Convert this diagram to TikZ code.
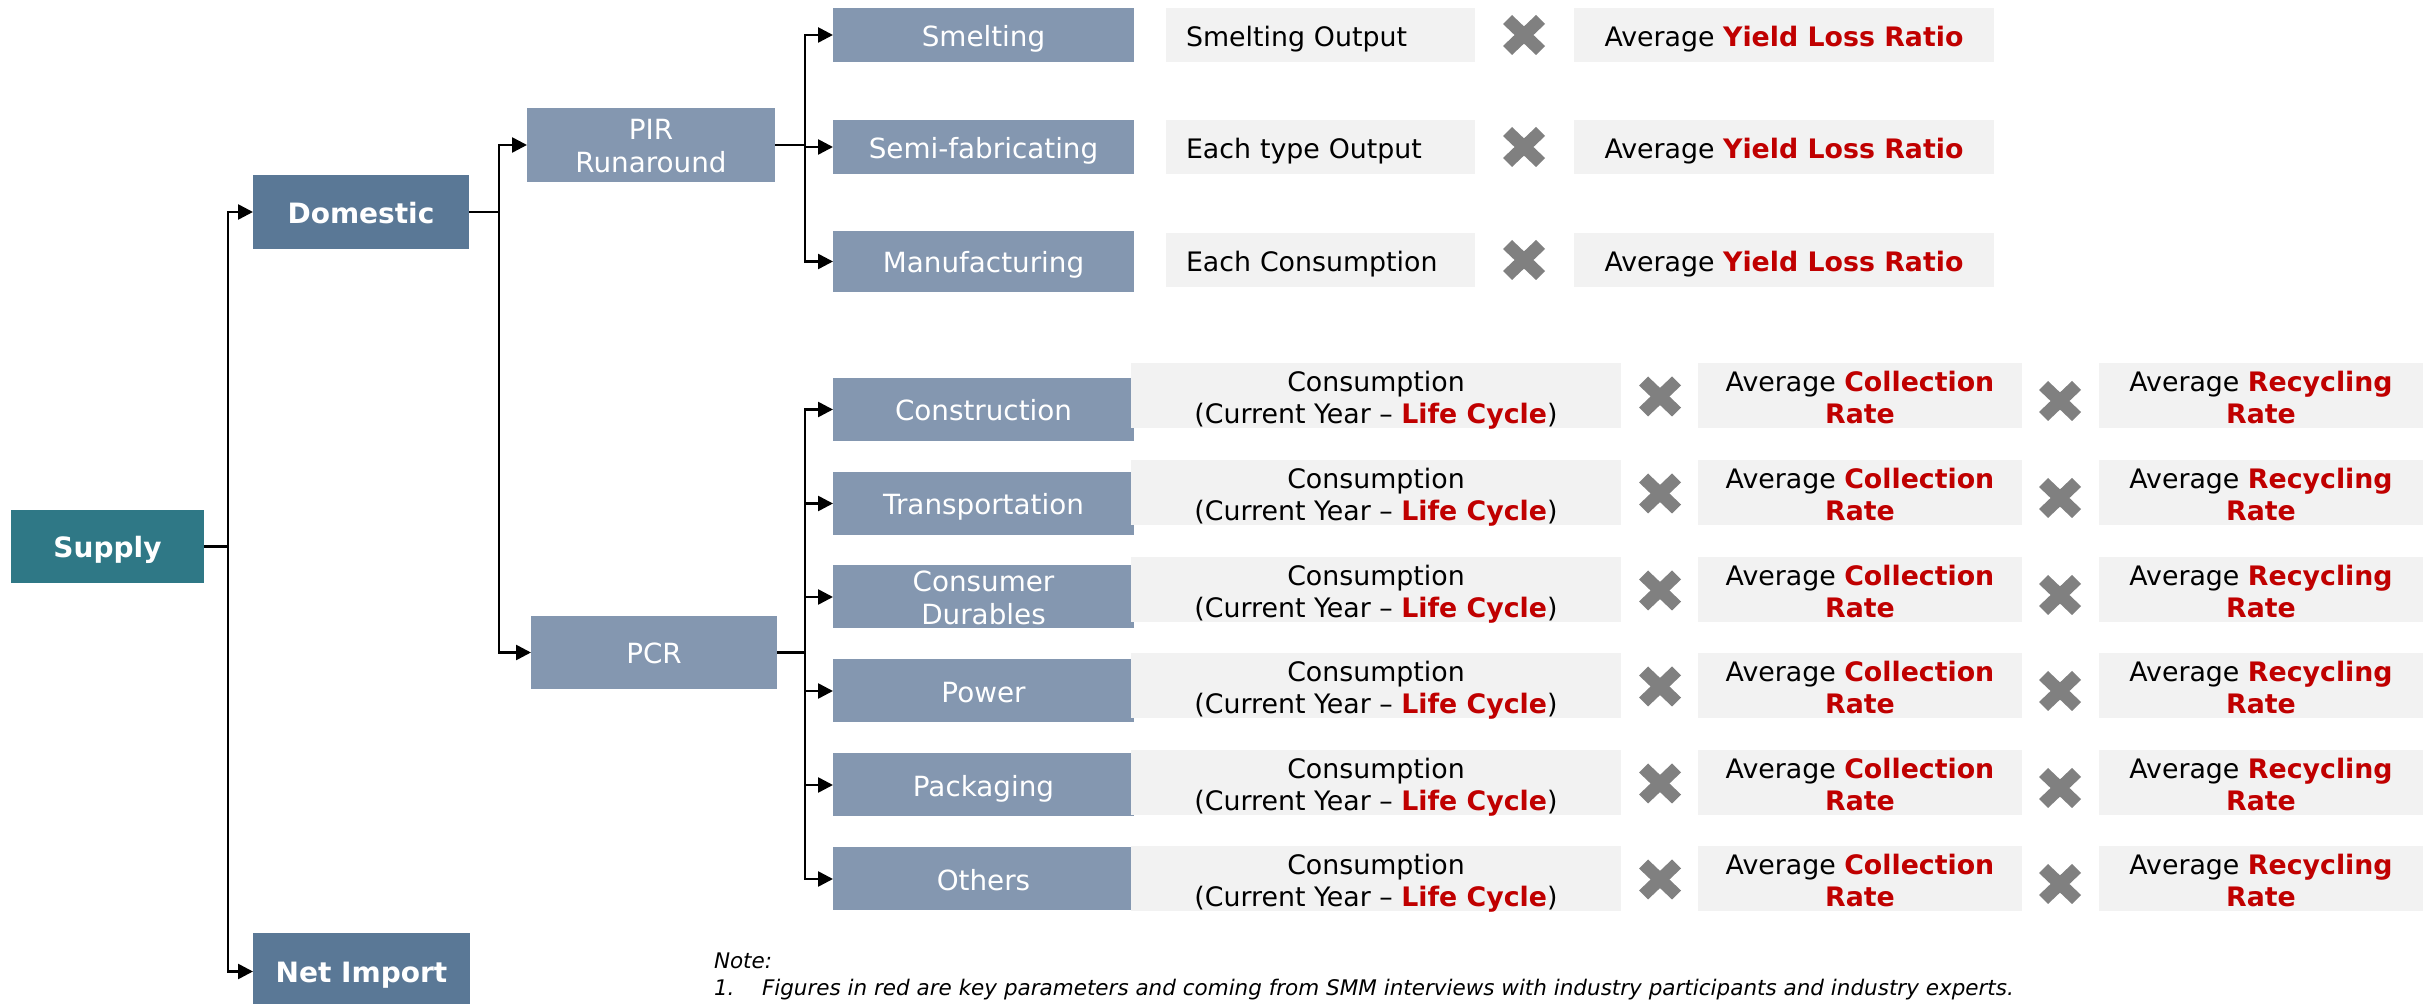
\documentclass[tikz,border=0pt]{standalone}
\usepackage{fontspec}
\setmainfont{DejaVu Sans}
\usetikzlibrary{arrows.meta}
\definecolor{supplyc}{RGB}{47,120,134}
\definecolor{domc}{RGB}{90,120,150}
\definecolor{lblue}{RGB}{132,151,176}
\definecolor{grayb}{RGB}{242,242,242}
\definecolor{redt}{RGB}{192,0,0}
\definecolor{xgray}{RGB}{128,128,128}
\newcommand\rb[1]{\textbf{\textcolor{redt}{#1}}}
\newcommand\xmk[2]{%
 \node[xmark] (#1) at #2 {};
 \fill[xgray,shift={(#1.center)}] (-10.5pt,5.5pt) -- (-6pt,10pt) -- (0pt,4.29pt) -- (6pt,10pt) -- (10.5pt,5.5pt) -- (4.725pt,0pt) -- (10.5pt,-5.5pt) -- (6pt,-10pt) -- (0pt,-4.29pt) -- (-6pt,-10pt) -- (-10.5pt,-5.5pt) -- (-4.725pt,0pt) -- cycle;}
\begin{document}
\begin{tikzpicture}[x=0.5pt,y=-0.5pt,
  base/.style={rectangle, inner sep=0pt, outer sep=0pt, align=center},
  sup/.style={base, fill=supplyc, text=white, font=\fontsize{14pt}{17pt}\selectfont\bfseries, text height=12.75pt, text depth=1.25pt},
  dom/.style={base, fill=domc, text=white, font=\fontsize{14pt}{17pt}\selectfont\bfseries, text height=12.75pt, text depth=1.25pt},
  lb/.style={base, fill=lblue, text=white, font=\fontsize{13.9pt}{16.5pt}\selectfont},
  lb1/.style={lb, text height=12.6pt, text depth=1.4pt},
  lb2/.style={lb, text height=29.5pt, text depth=1.5pt},
  gb/.style={base, fill=grayb, text=black, font=\fontsize{13.4pt}{16pt}\selectfont},
  gb1/.style={gb, text height=13pt, text depth=1pt},
  gb2/.style={gb, text height=29.25pt, text depth=1.5pt},
  gbl/.style={gb1, align=left, inner xsep=10pt, text width=134.5pt},
  conn/.style={line width=1.3pt, black, -{Triangle[length=7.5pt,width=7.5pt]}},
  xmark/.style={base, minimum width=21pt, minimum height=20pt},
  notef/.style={inner sep=0pt, outer sep=0pt, anchor=base west, font=\fontsize{10.75pt}{13.5pt}\selectfont\itshape}
]
\useasboundingbox (0,0) rectangle (2433,1004);
\clip (0,0) rectangle (2433,1004);

% main tree
\node[sup, minimum width=96.5pt, minimum height=36.5pt] (supply) at (107.5,546.5) {Supply};
\node[dom, minimum width=108pt, minimum height=37pt] (domestic) at (361,212) {Domestic};
\node[dom, minimum width=108.5pt, minimum height=38.5pt] (netimp) at (361.5,971.5) {Net Import};
\node[lb2, minimum width=124pt, minimum height=37pt] (pir) at (651,145) {PIR\\Runaround};
\node[lb1, minimum width=123pt, minimum height=36.5pt] (pcr) at (654,652.5) {PCR};

\draw[conn] (supply.east) -- ++(24,0) |- (domestic.west);
\draw[conn] (supply.east) -- ++(24,0) |- (netimp.west);
\draw[conn] (domestic.east) -- ++(30,0) |- (pir.west);
\draw[conn] (domestic.east) -- ++(30,0) |- (pcr.west);

% PIR branch
\node[lb1, minimum width=150.5pt, minimum height=27pt] (smelt) at (983.5,35) {Smelting};
\node[lb1, minimum width=150.5pt, minimum height=27pt] (semi) at (983.5,147) {Semi-fabricating};
\node[lb1, minimum width=150.5pt, minimum height=30.5pt] (manu) at (983.5,261.5) {Manufacturing};
\draw[conn] (pir.east) -- ++(30,0) |- (smelt.west);
\draw[conn] (pir.east) -- ++(30,0) |- (semi.west);
\draw[conn] (pir.east) -- ++(30,0) |- (manu.west);

\node[gbl, minimum height=27pt] (smeltout) at (1320.5,35) {Smelting Output};
\node[gbl, minimum height=27pt] (semiout) at (1320.5,147) {Each type Output};
\node[gbl, minimum height=27pt] (manuout) at (1320.5,260) {Each Consumption};
\xmk{tx1}{(1524,35)}
\xmk{tx2}{(1524,147)}
\xmk{tx3}{(1524,260)}
\node[gb1, minimum width=210pt, minimum height=27pt] (y1) at (1784,35) {Average \rb{Yield Loss Ratio}};
\node[gb1, minimum width=210pt, minimum height=27pt] (y2) at (1784,147) {Average \rb{Yield Loss Ratio}};
\node[gb1, minimum width=210pt, minimum height=27pt] (y3) at (1784,260) {Average \rb{Yield Loss Ratio}};

% PCR branch
\foreach \n/\lab/\st/\by/\gy in {c1/Construction/lb1/409.5/395.5, c2/Transportation/lb1/503.5/492.5, c3/{Consumer\\Durables}/lb2/597/589.5, c4/Power/lb1/691/685.5, c5/Packaging/lb1/785/782.5, c6/Others/lb1/879/878.5}{
  \node[\st, minimum width=150.5pt, minimum height=31.5pt] (\n) at (983.5,\by) {\lab};
  \draw[conn] (pcr.east) -- ++(28,0) |- (\n.west);
  \node[gb2, minimum width=245pt, minimum height=32.5pt] (\n-cons) at (1376,\gy) {Consumption\\(Current Year – \rb{Life Cycle})};
  \xmk{\n-x1}{(1660,\gy+1)}
  \node[gb2, minimum width=162pt, minimum height=32.5pt] (\n-col) at (1860,\gy) {Average \rb{Collection}\\\rb{Rate}};
  \xmk{\n-x2}{(2060,\gy+5.5)}
  \node[gb2, minimum width=162pt, minimum height=32.5pt] (\n-rec) at (2261,\gy) {Average \rb{Recycling}\\\rb{Rate}};
}

% note
\node[notef] (note) at (714,969) {Note:};
\node[notef] (n1) at (714,996) {1.};
\node[notef] (n1t) at (762,996) {Figures in red are key parameters and coming from SMM interviews with industry participants and industry experts.};
\end{tikzpicture}
\end{document}
